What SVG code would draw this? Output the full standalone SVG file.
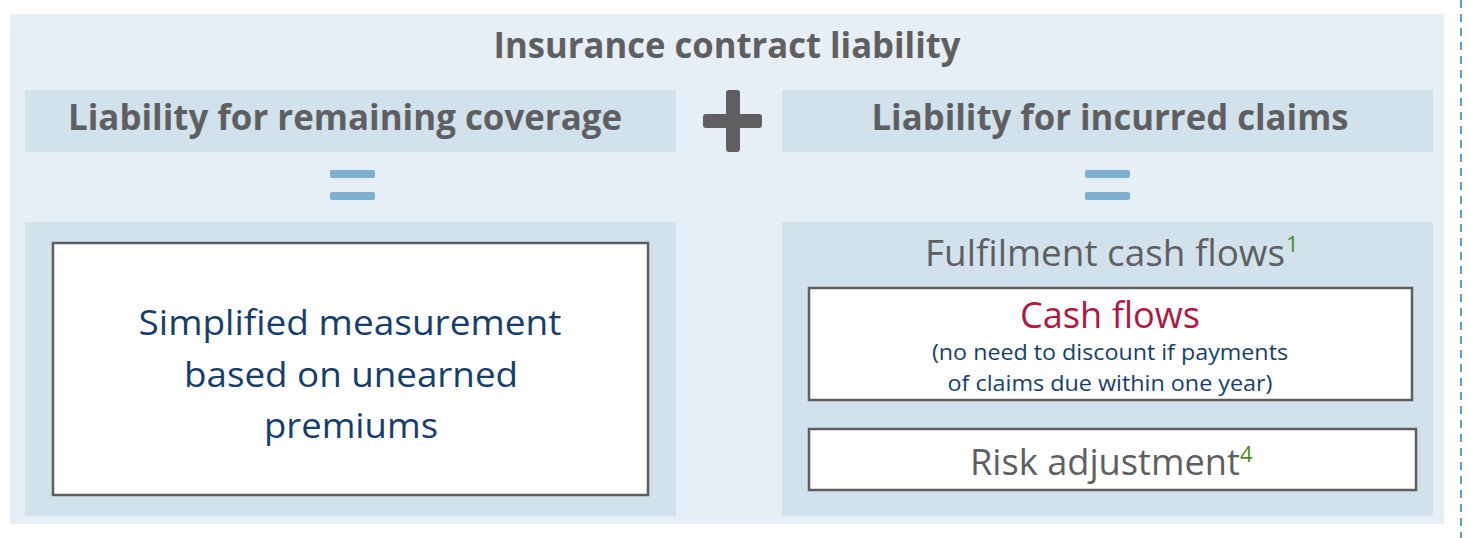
<svg xmlns="http://www.w3.org/2000/svg" width="1468" height="538" viewBox="0 0 1468 538">
<style>
.f{font-family:"Open Sans","Noto Sans","Liberation Sans",sans-serif}
.hd{font-weight:bold;fill:#5f5f61;font-size:35px;text-anchor:middle}
.gr{fill:#5f5f61;font-size:36px}
.nv{fill:#163e6d;font-size:34px;text-anchor:middle}
.sm{fill:#163e6d;font-size:21px;text-anchor:middle}
.sup{fill:#4f8a1f;font-size:22px}
.bar{fill:#d1e2ec}
.box{fill:#ffffff;stroke:#5e5e60;stroke-width:2.5}
.eq{fill:#7db0cf}
</style>
<rect x="10" y="14" width="1434" height="510" fill="#e6eef6"/>
<line x1="1461" y1="0" x2="1461" y2="538" stroke="#5c9fc9" stroke-width="2" stroke-dasharray="8,6"/>
<g id="title"><text class="f hd" x="727" y="58" textLength="467" lengthAdjust="spacingAndGlyphs">Insurance contract liability</text></g>
<g id="lrc">
<rect class="bar" x="25" y="90" width="651" height="62"/>
<text class="f hd" x="345" y="130" textLength="554" lengthAdjust="spacingAndGlyphs">Liability for remaining coverage</text>
</g>
<g id="plus" fill="#5f5f61">
<rect x="703" y="114" width="59" height="14" rx="3"/>
<rect x="726" y="90" width="14" height="62" rx="3"/>
</g>
<g id="lic">
<rect class="bar" x="782" y="90" width="651" height="62"/>
<text class="f hd" x="1110" y="130" textLength="477" lengthAdjust="spacingAndGlyphs">Liability for incurred claims</text>
</g>
<g id="eq-left">
<rect class="eq" x="330" y="170" width="45" height="8" rx="2"/>
<rect class="eq" x="330" y="192" width="45" height="8" rx="2"/>
</g>
<g id="eq-right">
<rect class="eq" x="1085" y="170" width="45" height="8" rx="2"/>
<rect class="eq" x="1085" y="192" width="45" height="8" rx="2"/>
</g>
<g id="simplified">
<rect class="bar" x="25" y="222" width="651" height="294"/>
<rect class="box" x="53" y="243" width="595" height="252"/>
<text class="f nv" x="350" y="335" textLength="423" lengthAdjust="spacingAndGlyphs">Simplified measurement</text>
<text class="f nv" x="351" y="387" textLength="334" lengthAdjust="spacingAndGlyphs">based on unearned</text>
<text class="f nv" x="351" y="438" textLength="174" lengthAdjust="spacingAndGlyphs">premiums</text>
</g>
<g id="fcf">
<rect class="bar" x="782" y="222" width="651" height="294"/>
<text class="f gr" x="925" y="266" textLength="360" lengthAdjust="spacingAndGlyphs">Fulfilment cash flows</text>
<text class="f sup" x="1286" y="252">1</text>
</g>
<g id="cashflows">
<rect class="box" x="809" y="288" width="603" height="112"/>
<text class="f" x="1110" y="328" fill="#b3173f" font-size="36" text-anchor="middle" textLength="180" lengthAdjust="spacingAndGlyphs">Cash flows</text>
<text class="f sm" x="1110" y="360" textLength="356" lengthAdjust="spacingAndGlyphs">(no need to discount if payments</text>
<text class="f sm" x="1110" y="391" textLength="325" lengthAdjust="spacingAndGlyphs">of claims due within one year)</text>
</g>
<g id="risk">
<rect class="box" x="809" y="429" width="607" height="61"/>
<text class="f gr" x="970" y="475" textLength="270" lengthAdjust="spacingAndGlyphs">Risk adjustment</text>
<text class="f sup" x="1240" y="462">4</text>
</g>
</svg>
